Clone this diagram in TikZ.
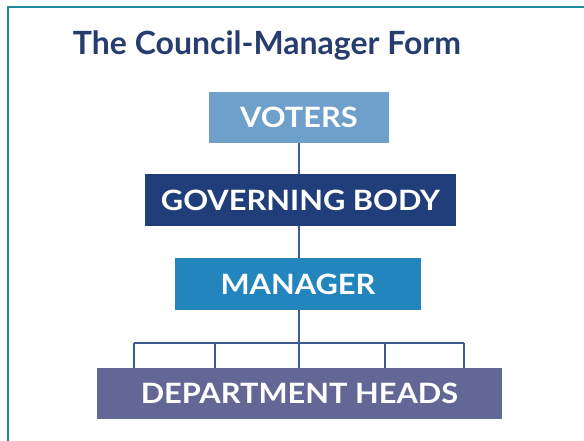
\documentclass[tikz,border=0pt]{standalone}
\usepackage{fontspec}
\setmainfont{Lato}
\newfontfamily\tierfont{Lato}[FakeStretch=1.1]
\begin{document}
\definecolor{frameteal}{HTML}{1B8B98}
\definecolor{titleblue}{HTML}{273D70}
\definecolor{voterblue}{HTML}{6F9FCB}
\definecolor{govblue}{HTML}{203F7A}
\definecolor{mgrblue}{HTML}{2385BD}
\definecolor{deptpurple}{HTML}{636796}
\definecolor{linkblue}{HTML}{3F5A8C}
\begin{tikzpicture}[x=1pt,y=-1pt,
  tier/.style={rectangle, inner sep=0pt, text=white,
    font=\tierfont\bfseries\fontsize{28}{32}\selectfont, anchor=center},
  link/.style={draw=linkblue, line width=2pt}]
  \useasboundingbox (0,0) rectangle (584,441);
  % frame open on the right and at the bottom
  \draw[frameteal, line width=2pt] (8,441) -- (8,7) -- (584,7);
  % heading
  \node[text=titleblue, font=\bfseries\fontsize{32}{36}\selectfont,
    anchor=base, inner sep=0pt] (title) at (267,55) {The Council-Manager Form};
  % tiers
  \node[tier, fill=voterblue, minimum width=180pt, minimum height=51pt]
    (voters) at (299,117.5) {VOTERS};
  \node[tier, fill=govblue, minimum width=311pt, minimum height=52pt]
    (gov) at (300.5,200) {GOVERNING BODY};
  \node[tier, fill=mgrblue, minimum width=246pt, minimum height=52pt]
    (mgr) at (298,284) {MANAGER};
  % bus level and drops into the department heads
  \coordinate (b1) at (134,343);
  \coordinate (b2) at (215,343);
  \coordinate (b3) at (299,343);
  \coordinate (b4) at (385,343);
  \coordinate (b5) at (464,343);
  \draw[link] (voters.south -| b3) -- (gov.north -| b3);
  \draw[link] (gov.south -| b3) -- (mgr.north -| b3);
  \draw[link] (mgr.south -| b3) -- (b3);
  \draw[link] (b1) -- (b5);
  \node[tier, fill=deptpurple, minimum width=405pt, minimum height=51pt]
    (dept) at (299.5,393.5) {DEPARTMENT HEADS};
  \foreach \b in {b1,b2,b3,b4,b5}
    \draw[link] (\b) -- (\b |- dept.north);
\end{tikzpicture}
\end{document}
